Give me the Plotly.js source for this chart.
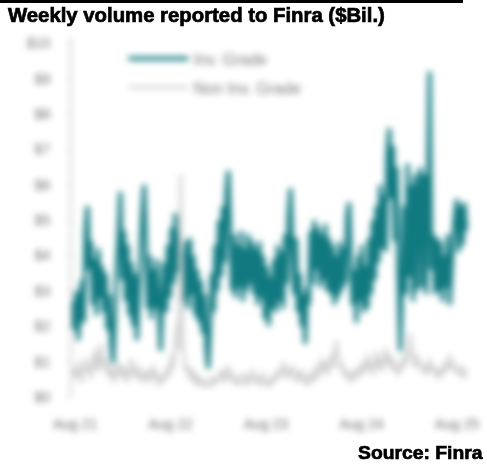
<!DOCTYPE html>
<html>
<head>
<meta charset="utf-8">
<script src="https://cdn.plot.ly/plotly-3.0.1.min.js"></script>
<style>
  html, body { margin: 0; padding: 0; background: #fff; }
  #wrap { position: relative; width: 487px; height: 464px; overflow: hidden; }
  #chart { position: absolute; left: 0; top: 0; width: 487px; height: 464px; filter: blur(3.3px); }
  #rule { position: absolute; left: 0; top: 0; width: 463px; height: 3px; background: #000; }
  .head { position: absolute; font-family: "Liberation Sans Narrow", "Liberation Sans", Arial, sans-serif;
          font-weight: bold; color: #000; white-space: nowrap; transform-origin: left top;
          -webkit-text-stroke: 0.7px #000; }
  #title { left: 8px; top: 4px; font-size: 20px; }
  #source { top: 442px; font-size: 19px; }
</style>
</head>
<body>
<div id="wrap">
  <div id="chart"></div>
  <div id="rule"></div>
  <div id="title" class="head">Weekly volume reported to Finra ($Bil.)</div>
  <div id="source" class="head">Source: Finra</div>
</div>
<script>
// Weekly trade reports, first week ending 2021-07-23
const firstWeek = '2021-07-23';

// Investment-grade volume, $ billions
const invGrade = [
  2.7, 1.9, 3.0, 1.6, 2.6, 3.3, 2.1, 4.7, 5.4, 3.6,
  4.4, 2.6, 3.9, 2.3, 4.2, 2.8, 3.7, 2.4, 3.5, 1.9,
  2.9, 1.5, 0.95, 2.5, 3.6, 4.5, 5.8, 3.3, 4.7, 2.7,
  4.3, 2.3, 3.8, 2.0, 3.5, 1.6, 3.0, 4.1, 5.2, 6.0,
  4.4, 2.5, 4.0, 2.2, 3.6, 2.5, 3.9, 2.3, 1.3, 2.9,
  3.8, 2.4, 4.3, 2.8, 4.8, 3.2, 5.2, 3.5, 4.6, 2.6,
  4.1, 2.7, 4.4, 2.5, 4.5, 2.9, 4.0, 2.3, 3.6, 2.1,
  3.3, 1.8, 2.9, 1.4, 0.8, 2.0, 3.5, 2.4, 4.3, 3.0,
  5.0, 3.4, 5.4, 3.8, 5.8, 6.4, 4.3, 3.0, 4.6, 2.8,
  4.3, 3.1, 4.7, 2.7, 4.2, 3.0, 4.6, 3.2, 4.4, 2.9,
  4.2, 2.6, 4.4, 2.8, 4.0, 2.2, 3.7, 2.0, 3.4, 2.5,
  3.9, 2.4, 4.3, 2.7, 4.1, 2.5, 4.6, 3.2, 5.1, 5.9,
  4.2, 2.9, 4.5, 2.4, 3.5, 2.0, 2.9, 1.5, 3.1, 2.6,
  4.7, 3.2, 5.0, 3.6, 4.8, 3.1, 4.6, 3.3, 4.9, 3.0,
  4.5, 2.9, 4.3, 2.6, 4.0, 2.8, 4.4, 3.0, 4.2, 3.2,
  5.1, 5.5, 3.8, 2.6, 3.6, 2.1, 4.0, 2.7, 4.3, 2.4,
  3.7, 2.5, 4.5, 2.9, 5.0, 3.3, 5.4, 3.8, 6.0, 4.2,
  5.7, 4.1, 6.9, 7.6, 5.6, 7.1, 4.4, 6.5, 3.5, 1.3,
  3.3, 5.4, 2.9, 6.6, 3.4, 6.0, 2.7, 6.3, 3.0, 5.6,
  6.5, 3.1, 6.3, 2.9, 5.4, 9.2, 3.6, 4.6, 2.9, 4.5,
  3.0, 4.4, 2.7, 4.0, 3.1, 4.6, 2.6, 3.7, 4.6, 5.2,
  5.6, 4.1, 5.4, 4.3, 5.5, 4.7
];

// Non-investment-grade volume, $ billions
const nonInvGrade = [
  0.6, 0.8, 0.5, 1.0, 0.7, 0.4, 0.8, 1.1, 0.7, 0.9,
  0.5, 1.2, 0.8, 1.4, 0.7, 1.0, 1.5, 0.8, 1.1, 0.6,
  0.9, 0.5, 0.8, 0.4, 0.7, 1.0, 0.6, 0.9, 0.5, 0.8,
  0.4, 0.7, 1.1, 0.6, 0.8, 0.5, 0.9, 0.6, 0.4, 0.7,
  0.5, 0.8, 0.4, 0.6, 0.9, 0.5, 0.7, 0.3, 0.6, 0.4,
  0.7, 0.5, 0.9, 0.6, 1.2, 0.8, 1.5, 2.1, 1.3, 6.3,
  1.8, 1.0, 0.7, 0.9, 0.5, 0.8, 0.4, 0.7, 0.3, 0.6,
  0.4, 0.3, 0.5, 0.3, 0.3, 0.4, 0.6, 0.3, 0.5, 0.4,
  0.7, 0.5, 0.8, 0.4, 0.6, 0.9, 0.5, 0.7, 0.4, 0.6,
  0.3, 0.5, 0.4, 0.7, 0.5, 0.3, 0.6, 0.4, 0.8, 0.5,
  0.4, 0.6, 0.3, 0.5, 0.7, 0.4, 0.3, 0.5, 0.3, 0.6,
  0.4, 0.7, 0.5, 0.8, 0.6, 1.0, 0.7, 0.5, 0.8, 0.6,
  0.9, 0.6, 0.4, 0.7, 0.5, 0.8, 0.4, 0.6, 0.3, 0.5,
  0.7, 0.4, 0.6, 0.9, 0.5, 0.8, 1.1, 0.7, 1.0, 0.6,
  0.9, 1.2, 0.8, 1.3, 1.6, 1.1, 0.8, 1.0, 0.6, 0.8,
  0.5, 0.7, 0.4, 0.6, 0.8, 0.5, 0.7, 0.9, 0.6, 1.0,
  0.7, 1.2, 0.8, 1.0, 0.6, 0.9, 1.3, 0.8, 1.1, 0.7,
  1.0, 1.4, 0.9, 1.2, 0.8, 1.1, 0.7, 0.9, 0.6, 0.8,
  1.1, 0.8, 1.3, 1.0, 1.8, 1.4, 1.1, 0.8, 1.2, 0.9,
  1.0, 0.7, 0.9, 0.6, 0.8, 1.1, 0.7, 0.9, 0.6, 0.8,
  0.5, 0.8, 0.6, 1.0, 0.7, 0.9, 1.2, 0.8, 1.0, 0.7,
  0.8, 0.6, 0.9, 0.7, 0.5, 0.8
];

const seriesNames = ['Inv. Grade', 'Non Inv. Grade'];
const yTicks = [0, 1, 2, 3, 4, 5, 6, 7, 8, 9, 10];
const yTickText = yTicks.map(function (v) { return '$' + v; });
const xTicks = ['2021-08-01', '2022-08-01', '2023-08-01', '2024-08-01', '2025-08-01'];

// one date per weekly report
function weekDates(n) {
  const out = [];
  const t0 = new Date(firstWeek + 'T00:00:00Z').getTime();
  for (let i = 0; i < n; i++) {
    out.push(new Date(t0 + i * 7 * 86400000).toISOString().slice(0, 10));
  }
  return out;
}
const dates = weekDates(invGrade.length);

const traces = [
  { x: dates, y: invGrade, name: seriesNames[0], type: 'scatter', mode: 'lines',
    legendgroup: 'a', line: { color: '#117a80', width: 4 } },
  { x: dates, y: nonInvGrade, name: seriesNames[1], type: 'scatter', mode: 'lines',
    legendgroup: 'b', line: { color: '#d2d2d2', width: 3 } }
];

const axisFont = { family: 'Arial, "Liberation Sans", sans-serif', size: 14, color: '#6e6e6e' };

const layout = {
  width: 487, height: 464,
  margin: { l: 72, r: 19, t: 38, b: 67 },
  paper_bgcolor: '#fff', plot_bgcolor: '#fff',
  showlegend: true,
  legend: {
    x: 0.13, y: 0.99, xanchor: 'left', yanchor: 'top',
    traceorder: 'grouped', tracegroupgap: 5, itemwidth: 60,
    bgcolor: 'rgba(0,0,0,0)',
    font: { family: 'Arial, "Liberation Sans", sans-serif', size: 16, color: '#7a7a7a' }
  },
  xaxis: {
    type: 'date', range: ['2021-07-20', '2025-09-12'],
    tickvals: xTicks, tickformat: '%b %y',
    showgrid: false, zeroline: false, showline: false,
    ticks: '', ticklabelstandoff: 17, tickfont: axisFont
  },
  yaxis: {
    range: [0, 10.15], tickvals: yTicks, ticktext: yTickText,
    showgrid: false, zeroline: false,
    showline: true, linecolor: '#cfcfcf', linewidth: 2,
    ticks: 'outside', ticklen: 4, tickcolor: '#cfcfcf',
    ticklabelstandoff: 13, tickfont: axisFont
  }
};

Plotly.newPlot('chart', traces, layout, { staticPlot: true, displayModeBar: false }).then(function () {
  // fit the condensed headline and source line to their set widths
  const t = document.getElementById('title');
  t.style.transform = 'scaleX(' + (377 / t.scrollWidth) + ')';
  const s = document.getElementById('source');
  const k = 124 / s.scrollWidth;
  s.style.left = (482 - 124) + 'px';
  s.style.transform = 'scaleX(' + k + ')';
});
</script>
</body>
</html>
